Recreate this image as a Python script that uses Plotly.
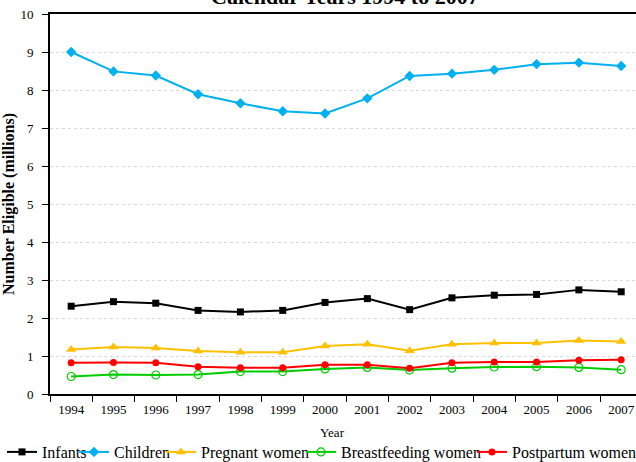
import plotly.graph_objects as go

years = ["1994", "1995", "1996", "1997", "1998", "1999", "2000",
         "2001", "2002", "2003", "2004", "2005", "2006", "2007"]
infants = [2.31, 2.43, 2.39, 2.20, 2.16, 2.20, 2.41, 2.51, 2.22, 2.53, 2.60, 2.62, 2.74, 2.69]
children = [9.00, 8.49, 8.38, 7.89, 7.65, 7.44, 7.38, 7.78, 8.37, 8.43, 8.53, 8.68, 8.72, 8.63]
pregnant = [1.17, 1.24, 1.21, 1.13, 1.10, 1.10, 1.26, 1.31, 1.14, 1.31, 1.34, 1.34, 1.41, 1.38]
breastfeeding = [0.46, 0.51, 0.50, 0.51, 0.59, 0.59, 0.66, 0.70, 0.63, 0.68, 0.71, 0.72, 0.70, 0.64]
postpartum = [0.82, 0.83, 0.82, 0.72, 0.69, 0.69, 0.77, 0.77, 0.68, 0.82, 0.84, 0.84, 0.89, 0.90]

FONT = "Liberation Serif"

series = [
    ("Infants", infants, "#000000", dict(symbol="square", size=7), "legend"),
    ("Children", children, "#00B0F0", dict(symbol="diamond", size=8), "legend2"),
    ("Pregnant women", pregnant, "#FFC000", dict(symbol="triangle-up", size=9), "legend3"),
    ("Breastfeeding women", breastfeeding, "#00CC00",
     dict(symbol="circle-open", size=8, line=dict(width=1.2)), "legend4"),
    ("Postpartum women", postpartum, "#FF0000", dict(symbol="circle", size=7), "legend5"),
]

fig = go.Figure()
for name, vals, color, marker, leg in series:
    fig.add_trace(go.Scatter(
        x=years, y=vals, name=name, mode="lines+markers",
        line=dict(color=color, width=2),
        marker=dict(color=color, **marker),
        legend=leg,
    ))

legend_x = [2.0, 74.0, 161, 301, 472]
leg_common = dict(orientation="h", xref="container", yref="container",
                  y=1 - 452 / 462, yanchor="middle", xanchor="left",
                  font=dict(family=FONT, size=16, color="#000000"),
                  bgcolor="rgba(0,0,0,0)", borderwidth=0, itemwidth=30)
legends = {}
for i, px in enumerate(legend_x):
    key = "legend" if i == 0 else f"legend{i+1}"
    legends[key] = dict(x=px / 636, **leg_common)

fig.update_layout(
    width=636, height=462,
    margin=dict(l=50, r=0, t=14, b=68),
    paper_bgcolor="white", plot_bgcolor="white",
    font=dict(family=FONT, color="#000000"),
    showlegend=True,
    **legends,
)

fig.update_xaxes(
    type="category", range=[-0.5, 13.35],
    tickson="boundaries", ticks="outside", ticklen=6, tickcolor="#000000",
    showline=True, linecolor="#000000", linewidth=2, mirror=True,
    showgrid=False, tickfont=dict(family=FONT, size=13, color="#000000"),
    ticklabelstandoff=2,
)
fig.update_yaxes(
    range=[0, 10], dtick=1, tick0=0,
    ticks="outside", ticklen=6, tickcolor="#000000",
    showline=True, linecolor="#000000", linewidth=2,
    showgrid=True, gridcolor="#D9D9D9", griddash="3px,3px", gridwidth=1,
    zeroline=False, tickfont=dict(family=FONT, size=13, color="#000000"),
    ticklabelstandoff=6,
    title=dict(text="<b>Number Eligible (millions)</b>",
               font=dict(family=FONT, size=16, color="#000000"), standoff=8),
)

PLOT_TOP, PLOT_BOT = 14, 394
def ypaper(py):
    return (PLOT_BOT - py) / (PLOT_BOT - PLOT_TOP)

fig.add_annotation(
    text="Year", xref="paper", yref="paper",
    x=(332 - 50) / 586, y=ypaper(432), xanchor="center", yanchor="middle",
    showarrow=False, font=dict(family=FONT, size=13, color="#000000"),
)
fig.add_annotation(
    text="<b>Calendar Years 1994 to 2007</b>", xref="paper", yref="paper",
    x=(345 - 50) / 586, y=ypaper(11), xanchor="center", yanchor="bottom",
    showarrow=False, font=dict(family=FONT, size=22, color="#000000"),
)

fig.write_html("out.html")
